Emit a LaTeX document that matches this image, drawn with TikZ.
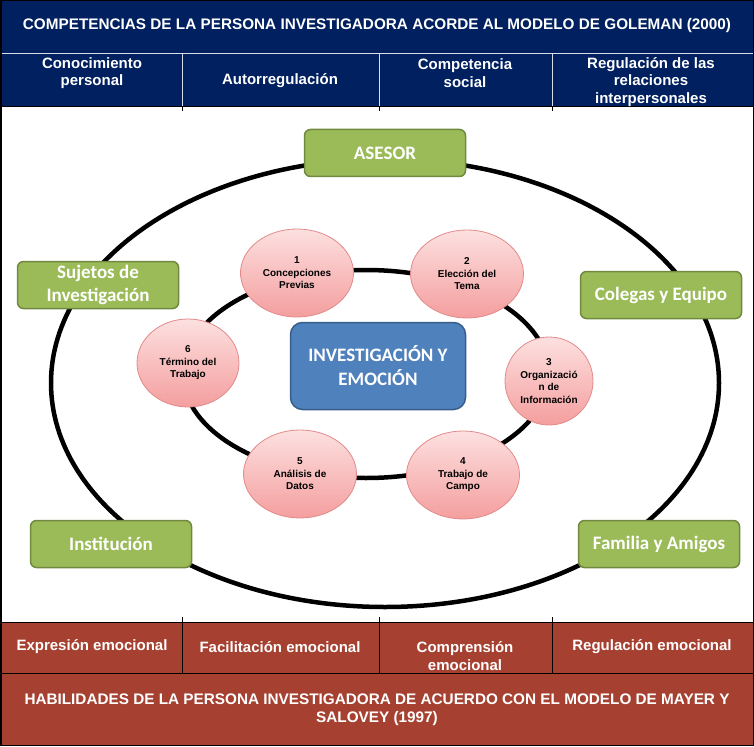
\documentclass[tikz,border=0pt]{standalone}
\usepackage{fontspec}
\setmainfont{Liberation Sans}
\newfontfamily\calibri{Carlito}
\usetikzlibrary{shapes.geometric,positioning}
\definecolor{navyband}{RGB}{0,32,96}
\definecolor{redband}{RGB}{166,65,49}
\definecolor{olivebox}{RGB}{155,187,89}
\definecolor{olivedark}{RGB}{113,137,63}
\definecolor{bluebox}{RGB}{79,129,189}
\definecolor{bluedark}{RGB}{56,93,138}
\definecolor{pinktop}{RGB}{253,224,224}
\definecolor{pinkbot}{RGB}{244,158,158}
\definecolor{pinkedge}{RGB}{226,138,138}

\begin{document}
\begin{tikzpicture}[x=1pt,y=-1pt]

    \tikzset{
      band/.style={
        inner sep=0pt,
        text=white,
        align=center,
        font=\bfseries\fontsize{15.3}{18}\selectfont,
      },
      cell/.style={
        inner sep=0pt,
        text=white,
        align=center,
        font=\bfseries\fontsize{15}{17.5}\selectfont,
      },
      actor/.style={
        draw=olivedark,
        line width=1.5pt,
        fill=olivebox,
        rounded corners=6pt,
        minimum width=161pt,
        minimum height=47pt,
        inner sep=0pt,
        text=white,
        align=center,
        font=\calibri\bfseries\fontsize{19}{23}\selectfont,
      },
      phase/.style={
        ellipse,
        draw=pinkedge,
        line width=0.8pt,
        top color=pinktop,
        bottom color=pinkbot,
        minimum width=113pt,
        minimum height=88pt,
        inner sep=0pt,
        align=center,
        font=\bfseries\fontsize{10}{12.5}\selectfont,
      },
      ring/.style={line width=4.5pt},
    }
    \useasboundingbox (0,0) rectangle (754,746);

    % bandas de la tabla
    \fill[navyband] (0,0) rectangle (754,107);
    \fill[redband] (0,622) rectangle (754,746);
    \draw[white!85!navyband, line width=1pt] (0,54)--(754,54);
    \foreach \xc in {182,379,552} {
      \draw[white!85!navyband, line width=1pt] (\xc,54)--(\xc,107);
      \draw[line width=0.8pt] (\xc,107)--(\xc,111);
      \draw[line width=0.8pt] (\xc,617)--(\xc,673);
    }
    \draw[line width=1pt] (0,673)--(754,673);
    \draw[line width=1pt] (0,107)--(754,107);
    \draw[line width=1pt] (0,622)--(754,622);
    \draw[line width=1.5pt] (0.75,0.75) rectangle (753.25,745.25);

    \node[band] (goleman) at (377,26) {COMPETENCIAS DE LA PERSONA INVESTIGADORA ACORDE AL MODELO DE GOLEMAN (2000)};
    \node[cell] (conoc) at (92,73) {Conocimiento\\personal};
    \node[cell] (autorr) at (280,81) {Autorregulación};
    \node[cell] (compsoc) at (465,73) {Competencia\\social};
    \node[cell] (regrel) at (651,82) {Regulación de las\\relaciones\\interpersonales};

    \node[cell] (expr) at (92,647) {Expresión emocional};
    \node[cell] (facil) at (280,647) {Facilitación emocional};
    \node[cell] (compr) at (465,656) {Comprensión\\emocional};
    \node[cell] (regem) at (652,647) {Regulación emocional};
    \node[band] (mayer) at (377,710) {HABILIDADES DE LA PERSONA INVESTIGADORA DE ACUERDO CON EL MODELO DE MAYER Y\\SALOVEY (1997)};

    % anillos
    \coordinate (outerc) at (385,383);
    \coordinate (innerc) at (366,374);
    \draw[ring] (outerc) ellipse [x radius=334, y radius=224];
    \draw[ring] (innerc) ellipse [x radius=183, y radius=104];

    \node[actor] (asesor) at (385,153) {ASESOR};
    \node[actor] (sujetos) at (98,285) {Sujetos de\\Investigación};
    \node[actor] (colegas) at (661,295) {Colegas y Equipo};
    \node[actor] (institucion) at (111,544) {Institución};
    \node[actor] (familia) at (659,544) {Familia y Amigos};

    \node[draw=bluedark, line width=1.5pt, fill=bluebox, rounded corners=12pt,
      minimum width=175pt, minimum height=87pt, text=white, align=center,
      font=\calibri\bfseries\fontsize{19}{24}\selectfont] (centro) at (378,366) {INVESTIGACIÓN Y\\EMOCIÓN};

    \node[phase] (fase1) at (297,273) {1\\Concepciones\\Previas};
    \node[phase] (fase2) at (467,274) {2\\Elección del\\Tema};
    \node[phase, minimum width=88pt] (fase3) at (549,381) {3\\Organizació\\n de\\Información};
    \node[phase] (fase4) at (463,475) {4\\Trabajo de\\Campo};
    \node[phase] (fase5) at (300,474) {5\\Análisis de\\Datos};
    \node[phase, minimum width=102pt] (fase6) at (188,363) {6\\Término del\\Trabajo};

\end{tikzpicture}
\end{document}
